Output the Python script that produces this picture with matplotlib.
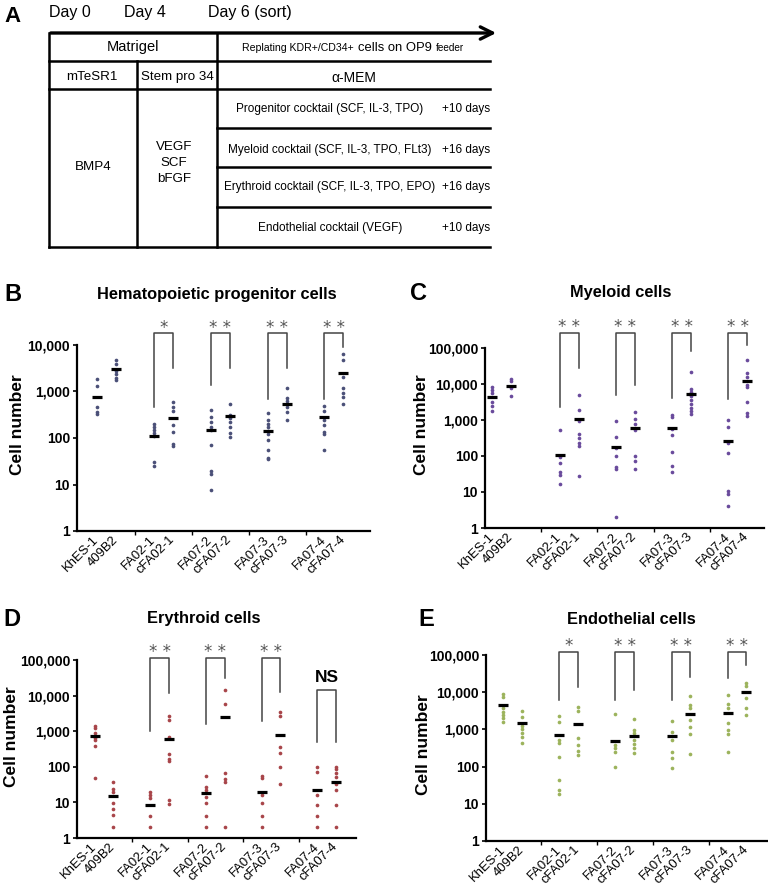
import numpy as np
import matplotlib.pyplot as plt
from matplotlib.offsetbox import TextArea, HPacker, AnnotationBbox

# Pontos (número de células, escala log)
labels = ["KhES-1", "409B2", "FA02-1", "cFA02-1", "FA07-2", "cFA07-2",
          "FA07-3", "cFA07-3", "FA07-4", "cFA07-4"]

prog_points = [
    [1900, 1300, 470, 370, 330],
    [4700, 3900, 2800, 2400, 2000, 1800],
    [200, 174, 148, 125, 110, 31, 25],
    [600, 470, 385, 190, 135, 76, 68],
    [400, 285, 222, 174, 152, 70, 19.6, 17, 7.8],
    [530, 310, 275, 222, 174, 125, 106],
    [340, 240, 205, 174, 142, 120, 90, 55, 38, 35],
    [1200, 710, 620, 470, 365, 240],
    [490, 385, 240, 190, 135, 120, 56],
    [6400, 4800, 2100, 1170, 940, 770, 535],
]
prog_medians = [770, 3000, 110, 270, 150, 300, 140, 530, 280, 2500]
prog_sig = ["*", "* *", "* *", "* *"]
prog_legs = [(470, 3200), (1400, 3200), (700, 3200), (700, 9100)]

mye_points = [
    [8300, 6900, 5600, 3100, 2400, 1740],
    [13800, 11800, 7700, 4550],
    [515, 92, 64, 35, 30, 17],
    [5000, 1860, 915, 415, 316, 230, 195, 27],
    [915, 335, 166, 102, 49, 44, 2.0],
    [1630, 1070, 790, 540, 98, 71, 44],
    [1400, 1210, 565, 375, 132, 54, 35],
    [21000, 7300, 5900, 4550, 3550, 2850, 2150, 1740, 1470],
    [980, 625, 230, 120, 11, 9, 4.0],
    [45000, 20300, 15600, 9600, 8100, 3150, 1560, 1260],
]
mye_medians = [4300, 9000, 105, 1050, 180, 590, 600, 5200, 260, 12000]
mye_sig = ["* *", "* *", "* *", "* *"]
mye_legs = [(2300, 27500), (5000, 9500), (4100, 81000), (3800, 123000)]

ery_points = [
    [1390, 1200, 900, 650, 560, 390, 50],
    [38, 24, 20, 9.8, 6.7, 4.3, 2.0],
    [19, 16.5, 13.7, 4.2, 2.0],
    [2650, 2050, 690, 235, 170, 147, 11.5, 8.9],
    [54, 27, 23, 14, 9.8, 4.2, 2.0],
    [14300, 5800, 65, 44, 38, 2.0],
    [54, 47, 16, 9.8, 4.2, 2.0],
    [3500, 2700, 365, 245, 96, 32],
    [100, 72, 16, 8.7, 4.2, 2.0],
    [100, 84, 65, 52, 32, 22, 8.7, 2.0],
]
ery_medians = [720, 15, 8.5, 620, 18, 2500, 20, 780, 23, 38]
ery_sig = ["* *", "* *", "* *", "NS"]
ery_legs = [(1000, 12000), (1600, 32000), (1950, 12900), (500, 500)]

endo_points = [
    [8800, 7600, 3700, 3000, 2450, 1980, 1600],
    [3200, 2100, 1230, 1000, 780, 635, 425],
    [2300, 1620, 525, 425, 186, 44, 23.5, 18],
    [4100, 3200, 575, 380, 270, 205],
    [2600, 380, 310, 250, 96],
    [1850, 960, 780, 525, 405, 310, 237],
    [1700, 870, 525, 250, 167, 94],
    [7900, 4550, 3700, 1780, 1180, 755, 218],
    [8400, 4800, 3830, 1450, 960, 755, 250],
    [18000, 14700, 6900, 3800, 2450],
]
endo_medians = [4500, 1500, 700, 1400, 500, 650, 650, 2600, 2700, 10000]
endo_sig = ["*", "* *", "* *", "* *"]
endo_legs = [(6200, 13500), (6200, 11500), (6200, 26300), (24500, 54000)]

tick_vals = [1, 10, 100, 1000, 10000, 100000]
tick_text = ["1", "10", "100", "1,000", "10,000", "100,000"]

W, H = 768, 889
plt.rcParams["font.family"] = ["Liberation Sans", "DejaVu Sans"]

fig = plt.figure(figsize=(W / 100, H / 100), dpi=100)


def px_rect(l, t, r, b):
    return [l / W, 1 - b / H, (r - l) / W, (b - t) / H]


def ftext(x, y, s, **kw):
    fig.text(x / W, 1 - y / H, s, **kw)


# ---------------- painel A (esquema) ----------------
axa = fig.add_axes([0, 1 - 280 / H, 1, 280 / H])
axa.set_xlim(0, W)
axa.set_ylim(280, 0)
axa.axis("off")
lw = 1.8
axa.annotate("", xy=(499, 33), xytext=(48, 33),
             arrowprops=dict(arrowstyle="->", lw=2.4, mutation_scale=22, color="black"))
for y in (61, 89, 247):
    axa.plot([49, 490], [y, y], color="black", lw=lw)
for y in (128, 167, 207):
    axa.plot([217, 490], [y, y], color="black", lw=lw)
axa.plot([49, 49], [33, 247], color="black", lw=lw)
axa.plot([137, 137], [61, 247], color="black", lw=lw)
axa.plot([217, 217], [33, 247], color="black", lw=lw)

ftext(4, 16, "A", fontsize=16, fontweight="bold", va="center")
ftext(49, 13, "Day 0", fontsize=11.5, va="center")
ftext(124, 13, "Day 4", fontsize=11.5, va="center")
ftext(208, 12, "Day 6 (sort)", fontsize=11.5, va="center")
ftext(133, 47, "Matrigel", fontsize=10.5, ha="center", va="center")

# texto com tamanhos mistos, como no original
parts = [("Replating KDR+/CD34+", 7.6), ("cells on OP9", 9.4), ("feeder", 7.2)]
box = HPacker(children=[TextArea(t, textprops=dict(fontsize=fs)) for t, fs in parts],
              align="baseline", pad=0, sep=3)
axa.add_artist(AnnotationBbox(box, (353, 48), xycoords="data", frameon=False,
                              box_alignment=(0.5, 0.5)))

ftext(92, 77, "mTeSR1", fontsize=9.6, ha="center", va="center")
ftext(177, 77, "Stem pro 34", fontsize=9.6, ha="center", va="center")
ftext(354, 78, "α-MEM", fontsize=10, ha="center", va="center")
ftext(93, 167, "BMP4", fontsize=9.6, ha="center", va="center")
ftext(174, 163, "VEGF\nSCF\nbFGF", fontsize=9.6, ha="center", va="center", linespacing=1.45)
cocktails = ["Progenitor cocktail (SCF, IL-3, TPO)", "Myeloid cocktail (SCF, IL-3, TPO, FLt3)",
             "Erythroid cocktail (SCF, IL-3, TPO, EPO)", "Endothelial cocktail (VEGF)"]
days = ["+10 days", "+16 days", "+16 days", "+10 days"]
for yy, c, d in zip((109, 150, 187, 228), cocktails, days):
    ftext(330, yy, c, fontsize=8.5, ha="center", va="center")
    ftext(490, yy, d, fontsize=8.5, ha="right", va="center")

# ---------------- painéis B-E ----------------
pos = np.array([0, 1, 3, 4, 6, 7, 9, 10, 12, 13], dtype=float)


def draw_panel(rect, xlim, ytop, points, medians, color, sig, legs, btop, star_y, shift=0.0):
    ax = fig.add_axes(px_rect(*rect))
    x = pos.copy()
    x[:2] += shift
    for xi, vals in zip(x, points):
        ax.scatter([xi] * len(vals), vals, s=7, color=color, lw=0, zorder=2)
    ax.plot(x, medians, ls="none", marker="_", ms=7, mew=2.3, color="black", zorder=3)
    ax.set_yscale("log")
    ax.set_ylim(1, ytop)
    ax.set_xlim(*xlim)
    ax.minorticks_off()
    yt = [v for v in tick_vals if v <= ytop]
    ax.set_yticks(yt)
    ax.set_yticklabels(tick_text[:len(yt)], fontsize=10, fontweight="bold")
    ax.set_xticks(x)
    ax.set_xticklabels(labels, rotation=45, ha="right", va="center",
                       rotation_mode="anchor", fontsize=9.4)
    ax.set_xticks([2, 5, 8, 11], minor=True)
    ax.tick_params(axis="x", which="major", length=0, pad=5)
    ax.tick_params(axis="x", which="minor", length=3, width=1)
    ax.tick_params(axis="y", length=3, width=1.2, pad=2)
    for s in ("top", "right"):
        ax.spines[s].set_visible(False)
    for s in ("left", "bottom"):
        ax.spines[s].set_linewidth(1.6)
    for k, lab in enumerate(sig):
        xl, xr = x[2 + 2 * k], x[3 + 2 * k]
        lo_l, lo_r = legs[k]
        top = btop[k]
        ax.plot([xl, xl, xr, xr], [lo_l, top, top, lo_r], color="#444444",
                lw=1.1, clip_on=False)
        if lab == "NS":
            ax.text((xl + xr) / 2, star_y[k], lab, ha="center", va="center",
                    fontsize=12.5, fontweight="bold", clip_on=False)
        else:
            ax.text((xl + xr) / 2, star_y[k], lab, ha="center", va="center",
                    fontsize=12, color="#555555", family="DejaVu Sans", clip_on=False)
    return ax


draw_panel((77, 345, 370, 531), (-1.05, 14.4), 1e4, prog_points, prog_medians, "#4b5078",
           prog_sig, prog_legs, [17800] * 4, [23000] * 4)
draw_panel((485, 348, 764, 528), (-1.0, 13.9), 1e5, mye_points, mye_medians, "#6a4b9c",
           mye_sig, mye_legs, [263000] * 4, [380000] * 4, shift=-0.6)
draw_panel((77, 660, 356, 838), (-0.97, 14.1), 1e5, ery_points, ery_medians, "#a8454a",
           ery_sig, ery_legs, [117000, 117000, 117000, 14800], [165000, 165000, 165000, 32000])
draw_panel((486, 655, 767, 841), (-0.92, 14.1), 1e5, endo_points, endo_medians, "#9cb35c",
           endo_sig, endo_legs, [123000] * 4, [170000] * 4)

# títulos, letras e rótulos do eixo y
for lx, ly, let, tx, title in [(4, 294, "B", 217, "Hematopoietic progenitor cells"),
                               (410, 293, "C", 621, "Myeloid cells"),
                               (3, 619, "D", 204, "Erythroid cells"),
                               (418, 619, "E", 631, "Endothelial cells")]:
    ftext(lx, ly, let, fontsize=17, fontweight="bold", va="center")
    ftext(tx, ly, title, fontsize=11.8, fontweight="bold", ha="center", va="center")
for cx, cy in [(18, 425), (421, 425), (12, 737), (424, 745)]:
    ftext(cx, cy, "Cell number", fontsize=12.5, fontweight="bold", rotation=90,
          ha="center", va="center")

fig.savefig("out.png", dpi=100)
